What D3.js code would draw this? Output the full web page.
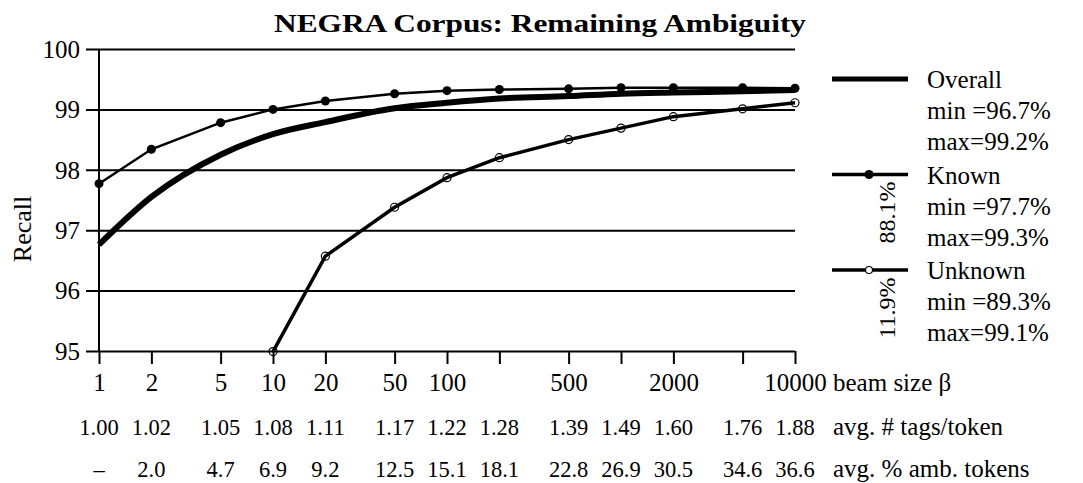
<!DOCTYPE html>
<html lang="en">
<head>
  <meta charset="UTF-8" />
  <title>NEGRA Corpus: Remaining Ambiguity</title>
  <script src="https://d3js.org/d3.v7.min.js" charset="utf-8"></script>
  <style type="text/css">
  body {
    margin: 0;
    background: #fff;
  }
  svg {
    display: block;
    font-family: "Liberation Serif", "DejaVu Serif", serif;
  }
  .grid line {
    stroke: #000;
    stroke-width: 2;
  }
  .grid path.domain,
  .xaxis path.domain {
    stroke: none;
  }
  .xaxis line {
    stroke: #000;
    stroke-width: 2;
  }
  </style>
</head>
<body>
<script type="text/javascript">

// beam sizes and the table rows under the x axis
const beams = [1, 2, 5, 10, 20, 50, 100, 200, 500, 1000, 2000, 5000, 10000];
const beamLabels = [1, 2, 5, 10, 20, 50, 100, 500, 2000, 10000];
const tagsPerToken = ["1.00", "1.02", "1.05", "1.08", "1.11", "1.17", "1.22", "1.28", "1.39", "1.49", "1.60", "1.76", "1.88"];
const ambTokens = ["\u2013", "2.0", "4.7", "6.9", "9.2", "12.5", "15.1", "18.1", "22.8", "26.9", "30.5", "34.6", "36.6"];
const rowLabels = ["beam size \u03b2", "avg. # tags/token", "avg. % amb. tokens"];

// recall per beam size
const overall = [96.76, 97.55, 98.25, 98.59, 98.79, 99.02, 99.11, 99.18, 99.22, 99.26, 99.28, 99.30, 99.32];
const known = [97.77, 98.34, 98.78, 99.00, 99.14, 99.26, 99.31, 99.33, 99.34, 99.36, 99.36, 99.36, 99.35];
const unknownBeams = [10, 20, 50, 100, 200, 500, 1000, 2000, 5000, 10000];
const unknown = [94.99, 96.57, 97.38, 97.87, 98.20, 98.50, 98.69, 98.88, 99.01, 99.11];

const yTicks = [95, 96, 97, 98, 99, 100];

const legendNames = ["Overall", "Known", "Unknown"];
const legendMin = ["96.7%", "97.7%", "89.3%"];
const legendMax = ["99.2%", "99.3%", "99.1%"];
const legendShare = [null, "88.1%", "11.9%"];

const width = 1083, height = 483;

const svg = d3.select("body").append("svg")
    .attr("width", width)
    .attr("height", height);

const x = d3.scaleLog().domain([1, 10000]).range([99, 795]);
const y = d3.scaleLinear().domain([95, 100]).range([351, 49]);

// title
svg.append("text")
    .attr("x", 540)
    .attr("y", 32)
    .attr("text-anchor", "middle")
    .attr("font-weight", "bold")
    .attr("font-size", 25)
    .attr("textLength", 532)
    .attr("lengthAdjust", "spacingAndGlyphs")
    .text("NEGRA Corpus: Remaining Ambiguity");

// horizontal grid + y tick labels
const grid = svg.append("g")
    .attr("class", "grid")
    .attr("transform", "translate(86,0)")
    .call(d3.axisLeft(y).tickValues(yTicks).tickSize(-(795 - 86)).tickPadding(6)
      .tickFormat(d3.format("d")));
grid.selectAll("text")
    .attr("font-family", "Liberation Serif")
    .attr("font-size", 25)
    .attr("fill", "#000")
    .attr("dy", "0.33em");

// vertical axis line
svg.append("line")
    .attr("x1", x(1)).attr("x2", x(1))
    .attr("y1", y(100)).attr("y2", y(95))
    .attr("stroke", "#000")
    .attr("stroke-width", 2);

// x axis ticks
const xaxis = svg.append("g")
    .attr("class", "xaxis")
    .attr("transform", `translate(0,${y(95)})`)
    .call(d3.axisBottom(x).tickValues(beams).tickSize(13)
      .tickFormat(d => beamLabels.includes(d) ? String(d) : ""));
xaxis.selectAll("text")
    .attr("font-family", "Liberation Serif")
    .attr("font-size", 25)
    .attr("fill", "#000")
    .attr("y", 40)
    .attr("dy", 0);

// table rows
svg.append("g").selectAll("text")
    .data(beams)
  .join("text")
    .attr("x", d => x(d))
    .attr("y", 435)
    .attr("text-anchor", "middle")
    .attr("font-size", 22.5)
    .text((d, i) => tagsPerToken[i]);

svg.append("g").selectAll("text")
    .data(beams)
  .join("text")
    .attr("x", d => x(d))
    .attr("y", 477)
    .attr("text-anchor", "middle")
    .attr("font-size", 22.5)
    .text((d, i) => ambTokens[i]);

svg.append("g").selectAll("text")
    .data(rowLabels)
  .join("text")
    .attr("x", 833)
    .attr("y", (d, i) => [391, 435, 477][i])
    .attr("font-size", 25)
    .text(d => d);

// y label
svg.append("text")
    .attr("transform", "translate(31,229) rotate(-90)")
    .attr("text-anchor", "middle")
    .attr("font-size", 26)
    .text("Recall");

// series
const plot = svg.append("g");

plot.append("path")
    .datum(beams.map((b, i) => [b, overall[i]]))
    .attr("fill", "none")
    .attr("stroke", "#000")
    .attr("stroke-width", 6)
    .attr("stroke-linejoin", "round")
    .attr("d", d3.line().x(d => x(d[0])).y(d => y(d[1])).curve(d3.curveMonotoneX));

plot.append("path")
    .datum(beams.map((b, i) => [b, known[i]]))
    .attr("fill", "none")
    .attr("stroke", "#000")
    .attr("stroke-width", 2.5)
    .attr("d", d3.line().x(d => x(d[0])).y(d => y(d[1])));

plot.append("g").selectAll("circle")
    .data(beams.map((b, i) => [b, known[i]]))
  .join("circle")
    .attr("cx", d => x(d[0]))
    .attr("cy", d => y(d[1]))
    .attr("r", 4.5)
    .attr("fill", "#000");

plot.append("path")
    .datum(unknownBeams.map((b, i) => [b, unknown[i]]))
    .attr("fill", "none")
    .attr("stroke", "#000")
    .attr("stroke-width", 3.5)
    .attr("d", d3.line().x(d => x(d[0])).y(d => y(d[1])));

plot.append("g").selectAll("circle")
    .data(unknownBeams.map((b, i) => [b, unknown[i]]))
  .join("circle")
    .attr("cx", d => x(d[0]))
    .attr("cy", d => y(d[1]))
    .attr("r", 4)
    .attr("fill", "none")
    .attr("stroke", "#000")
    .attr("stroke-width", 1.2);

// legend
const legend = svg.append("g").selectAll("g")
    .data(legendNames)
  .join("g")
    .attr("transform", (d, i) => `translate(0,${i * 95.5})`);

legend.append("line")
    .attr("x1", 832).attr("x2", 908)
    .attr("y1", 79).attr("y2", 79)
    .attr("stroke", "#000")
    .attr("stroke-width", (d, i) => i === 0 ? 5 : 3.5);

legend.filter((d, i) => i === 1).append("circle")
    .attr("cx", 869).attr("cy", 79).attr("r", 4.5)
    .attr("fill", "#000");

legend.filter((d, i) => i === 2).append("circle")
    .attr("cx", 869).attr("cy", 79).attr("r", 3.5)
    .attr("fill", "#fff")
    .attr("stroke", "#000")
    .attr("stroke-width", 1.2);

legend.append("text")
    .attr("x", 927).attr("y", 88)
    .attr("font-size", 25)
    .text(d => d);

legend.append("text")
    .attr("x", 927).attr("y", 119)
    .attr("font-size", 25)
    .text((d, i) => "min =" + legendMin[i]);

legend.append("text")
    .attr("x", 927).attr("y", 150)
    .attr("font-size", 25)
    .text((d, i) => "max=" + legendMax[i]);

legend.filter((d, i) => legendShare[i] !== null).append("text")
    .attr("transform", "translate(895,117) rotate(-90)")
    .attr("text-anchor", "middle")
    .attr("font-size", 24)
    .text(d => legendShare[legendNames.indexOf(d)]);

</script>
</body>
</html>
